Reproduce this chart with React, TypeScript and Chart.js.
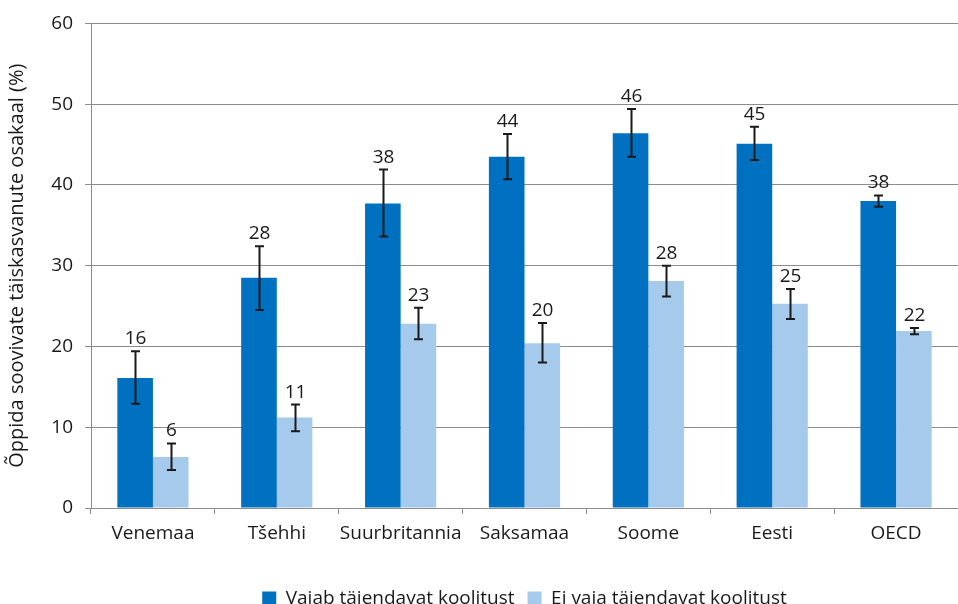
import React, { useEffect, useRef } from "react";
import { Chart, registerables } from "chart.js";

Chart.register(...registerables);

const categories = ["Venemaa", "Tšehhi", "Suurbritannia", "Saksamaa", "Soome", "Eesti", "OECD"];
const seriesNames = ["Vajab täiendavat koolitust", "Ei vaja täiendavat koolitust"];
const needValues = [16.1, 28.5, 37.7, 43.5, 46.4, 45.1, 38.0];
const needLow = [12.9, 24.5, 33.6, 40.7, 43.5, 43.1, 37.3];
const needHigh = [19.4, 32.4, 41.9, 46.3, 49.4, 47.2, 38.7];
const noNeedValues = [6.3, 11.2, 22.8, 20.4, 28.1, 25.3, 21.9];
const noNeedLow = [4.7, 9.5, 20.9, 18.0, 26.2, 23.4, 21.5];
const noNeedHigh = [8.0, 12.8, 24.8, 22.9, 30.0, 27.1, 22.3];
const needLabels = ["16", "28", "38", "44", "46", "45", "38"];
const noNeedLabels = ["6", "11", "23", "20", "28", "25", "22"];
const yAxisTitle = "Õppida soovivate täiskasvanute osakaal (%)";

const FONT = "'Open Sans', sans-serif";
const TEXT = "#1a1a1a";
const GRID = "#8c8c8c";

const errorPlugin = {
  id: "errbars",
  afterDatasetsDraw(chart: any) {
    const ctx = chart.ctx;
    const y = chart.scales.y;
    const groups: [number[], number[], string[]][] = [
      [needLow, needHigh, needLabels],
      [noNeedLow, noNeedHigh, noNeedLabels],
    ];
    groups.forEach(([lo, hi, lab], di) => {
      const meta = chart.getDatasetMeta(di);
      meta.data.forEach((bar: any, i: number) => {
        const x = Math.round(bar.x) + 0.5;
        const yl = y.getPixelForValue(lo[i]);
        const yh = y.getPixelForValue(hi[i]);
        ctx.save();
        ctx.strokeStyle = TEXT;
        ctx.lineWidth = 2;
        ctx.beginPath();
        ctx.moveTo(x, yl);
        ctx.lineTo(x, yh);
        ctx.moveTo(x - 4.5, yl);
        ctx.lineTo(x + 4.5, yl);
        ctx.moveTo(x - 4.5, yh);
        ctx.lineTo(x + 4.5, yh);
        ctx.stroke();
        ctx.fillStyle = TEXT;
        ctx.font = `19px ${FONT}`;
        ctx.textAlign = "center";
        ctx.textBaseline = "alphabetic";
        ctx.fillText(lab[i], x, yh - 7);
        ctx.restore();
      });
    });
  },
};

export default function App() {
  const ref = useRef<HTMLCanvasElement | null>(null);
  useEffect(() => {
    if (!ref.current) return;
    const chart = new Chart(ref.current, {
      type: "bar",
      data: {
        labels: categories,
        datasets: [
          {
            label: seriesNames[0],
            data: needValues,
            backgroundColor: "#0070c0",
            categoryPercentage: 0.575,
            barPercentage: 1,
          },
          {
            label: seriesNames[1],
            data: noNeedValues,
            backgroundColor: "#a6caec",
            categoryPercentage: 0.575,
            barPercentage: 1,
          },
        ],
      },
      options: {
        responsive: false,
        animation: false,
        layout: { padding: { top: 21, right: 0, left: 0, bottom: 0 } },
        plugins: {
          tooltip: { enabled: false },
          legend: {
            position: "bottom",
            fullSize: false,
            labels: {
              boxWidth: 14,
              boxHeight: 14,
              padding: 13,
              color: TEXT,
              font: { family: FONT, size: 19 },
            },
          },
        },
        scales: {
          x: {
            grid: {
              drawOnChartArea: false,
              drawTicks: true,
              tickLength: 6,
              color: GRID,
            },
            border: { color: GRID, width: 1 },
            ticks: {
              color: TEXT,
              font: { family: FONT, size: 19 },
              padding: 8,
              minRotation: 0,
              maxRotation: 0,
              autoSkip: false,
            },
            afterFit: (s: any) => {
              s.height = 68;
            },
          },
          y: {
            min: 0,
            max: 60,
            ticks: { stepSize: 10, color: TEXT, font: { family: FONT, size: 19 }, padding: 12 },
            grid: { color: GRID, tickLength: 6 },
            border: { color: GRID, width: 1 },
            title: {
              display: true,
              text: yAxisTitle,
              color: TEXT,
              font: { family: FONT, size: 20 },
              padding: { top: 5, bottom: 0 },
            },
            afterFit: (s: any) => {
              s.width = 91;
            },
          },
        },
      },
      plugins: [errorPlugin],
    } as any);
    return () => chart.destroy();
  }, []);
  return (
    <div style={{ position: "absolute", left: 0, top: 0, width: 958, height: 604, overflow: "hidden", background: "#fff" }}>
      <canvas ref={ref} width={958} height={618} style={{ display: "block" }} />
    </div>
  );
}
